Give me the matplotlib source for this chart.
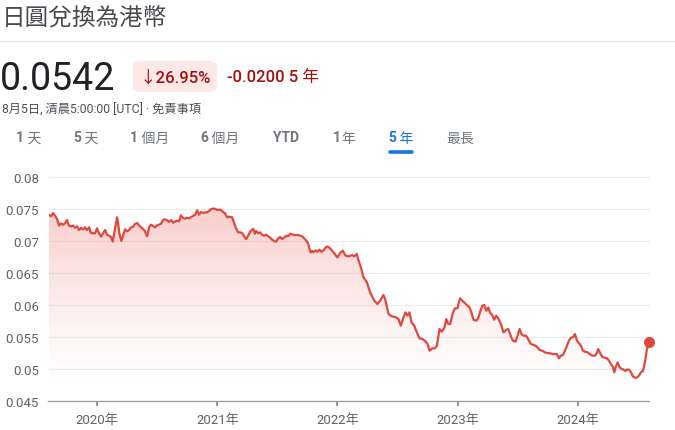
import numpy as np
import matplotlib.pyplot as plt
from matplotlib.patches import FancyBboxPatch
from matplotlib.lines import Line2D

plt.rcParams['font.family'] = ['Roboto', 'Noto Sans CJK TC', 'DejaVu Sans']

# JPY -> HKD, last 5 years (decimal year, rate)
years = [
    2019.597, 2019.614, 2019.631, 2019.647, 2019.664, 2019.681, 2019.697, 2019.714, 2019.731, 2019.747,
    2019.764, 2019.781, 2019.797, 2019.814, 2019.831, 2019.847, 2019.864, 2019.881, 2019.897, 2019.914,
    2019.931, 2019.947, 2019.964, 2019.981, 2019.997, 2020.014, 2020.031, 2020.047, 2020.064, 2020.081,
    2020.097, 2020.114, 2020.128, 2020.139, 2020.156, 2020.164, 2020.172, 2020.183, 2020.200, 2020.214,
    2020.231, 2020.247, 2020.264, 2020.281, 2020.297, 2020.314, 2020.331, 2020.347, 2020.364, 2020.381,
    2020.397, 2020.414, 2020.431, 2020.447, 2020.464, 2020.481, 2020.497, 2020.514, 2020.531, 2020.547,
    2020.564, 2020.581, 2020.597, 2020.614, 2020.631, 2020.647, 2020.664, 2020.681, 2020.697, 2020.714,
    2020.731, 2020.747, 2020.764, 2020.781, 2020.797, 2020.814, 2020.831, 2020.847, 2020.864, 2020.881,
    2020.897, 2020.914, 2020.931, 2020.947, 2020.964, 2020.981, 2020.997, 2021.014, 2021.031, 2021.047,
    2021.064, 2021.081, 2021.097,
    2021.123, 2021.139, 2021.156, 2021.173, 2021.189, 2021.206, 2021.223, 2021.239, 2021.256,
    2021.273, 2021.289, 2021.300, 2021.312, 2021.323, 2021.339, 2021.356, 2021.373, 2021.389, 2021.406,
    2021.423, 2021.439, 2021.456, 2021.473, 2021.489, 2021.506, 2021.523, 2021.539, 2021.556, 2021.573,
    2021.589, 2021.606, 2021.623, 2021.639, 2021.656, 2021.673, 2021.689, 2021.706, 2021.723, 2021.739,
    2021.756, 2021.767, 2021.778, 2021.789, 2021.800, 2021.817, 2021.834, 2021.850, 2021.867, 2021.884,
    2021.900, 2021.917,
    2021.939, 2021.967, 2022.000, 2022.022, 2022.045, 2022.067, 2022.094, 2022.122, 2022.139, 2022.161,
    2022.172, 2022.195, 2022.217, 2022.245, 2022.272, 2022.306, 2022.333, 2022.356, 2022.383, 2022.397,
    2022.425, 2022.453, 2022.489, 2022.508, 2022.528, 2022.550, 2022.567, 2022.583, 2022.600, 2022.617,
    2022.639, 2022.661, 2022.683, 2022.706, 2022.728, 2022.750, 2022.767, 2022.789, 2022.811, 2022.828,
    2022.850, 2022.867, 2022.889, 2022.906, 2022.922, 2022.939, 2022.961, 2022.978, 2023.000, 2023.011,
    2023.022, 2023.039, 2023.061, 2023.083, 2023.100, 2023.117, 2023.133, 2023.156, 2023.172, 2023.189,
    2023.206, 2023.222, 2023.239, 2023.256, 2023.272, 2023.289, 2023.306, 2023.322, 2023.339, 2023.361,
    2023.383, 2023.406, 2023.422, 2023.445, 2023.461, 2023.483, 2023.500, 2023.517, 2023.533, 2023.550,
    2023.572, 2023.595, 2023.611, 2023.633, 2023.650, 2023.667, 2023.683, 2023.706, 2023.728, 2023.750,
    2023.772, 2023.795, 2023.811, 2023.828, 2023.845, 2023.861, 2023.878, 2023.895, 2023.911, 2023.928,
    2023.945, 2023.961, 2023.978, 2023.995, 2024.011, 2024.028, 2024.045, 2024.061, 2024.084, 2024.100,
    2024.122, 2024.145, 2024.161, 2024.172, 2024.189, 2024.206, 2024.228, 2024.245, 2024.261, 2024.278,
    2024.295, 2024.306, 2024.317, 2024.334, 2024.350, 2024.367, 2024.384, 2024.400, 2024.411, 2024.428,
    2024.445, 2024.461, 2024.478, 2024.495, 2024.511, 2024.528, 2024.545, 2024.561, 2024.578, 2024.595,
]
rates = [
    0.07411, 0.07385, 0.07437, 0.07396, 0.07344, 0.07240, 0.07276, 0.07255, 0.07276, 0.07328,
    0.07240, 0.07229, 0.07240, 0.07208, 0.07229, 0.07172, 0.07203, 0.07182, 0.07214, 0.07172,
    0.07214, 0.07125, 0.07120, 0.07120, 0.07198, 0.07120, 0.07068, 0.07120, 0.07172, 0.07094,
    0.07083, 0.07063, 0.06990, 0.07109, 0.07302, 0.07370, 0.07292, 0.07120, 0.07000, 0.07083,
    0.07182, 0.07151, 0.07172, 0.07214, 0.07224, 0.07266, 0.07281, 0.07245, 0.07214, 0.07188,
    0.07151, 0.07073, 0.07214, 0.07255, 0.07234, 0.07214, 0.07245, 0.07255, 0.07271, 0.07328,
    0.07339, 0.07323, 0.07297, 0.07328, 0.07286, 0.07302, 0.07318, 0.07307, 0.07401, 0.07359,
    0.07349, 0.07365, 0.07354, 0.07375, 0.07391, 0.07411, 0.07479, 0.07411, 0.07453, 0.07437,
    0.07448, 0.07448, 0.07469, 0.07500, 0.07505, 0.07505, 0.07484, 0.07490, 0.07484, 0.07453,
    0.07432, 0.07370, 0.07380,
    0.07370, 0.07281, 0.07198, 0.07135, 0.07135, 0.07125, 0.07073, 0.07031, 0.07083,
    0.07146, 0.07177, 0.07187, 0.07114, 0.07156, 0.07120, 0.07135, 0.07094, 0.07083, 0.07099,
    0.07073, 0.07052, 0.07021, 0.07000, 0.06990, 0.07041, 0.07062, 0.07031, 0.07052, 0.07083,
    0.07073, 0.07114, 0.07104, 0.07094, 0.07094, 0.07094, 0.07083, 0.07073, 0.07041, 0.07010,
    0.06958, 0.06875, 0.06823, 0.06844, 0.06823, 0.06854, 0.06833, 0.06864, 0.06833, 0.06854,
    0.06896, 0.06917,
    0.06885, 0.06823, 0.06745, 0.06812, 0.06849, 0.06771, 0.06760, 0.06781, 0.06760, 0.06797,
    0.06719, 0.06588, 0.06432, 0.06354, 0.06198, 0.06068, 0.06016, 0.06068, 0.06156, 0.06094,
    0.05859, 0.05823, 0.05807, 0.05781, 0.05677, 0.05807, 0.05885, 0.05833, 0.05885, 0.05729,
    0.05677, 0.05573, 0.05479, 0.05469, 0.05443, 0.05391, 0.05286, 0.05323, 0.05323, 0.05364,
    0.05625, 0.05583, 0.05635, 0.05781, 0.05703, 0.05703, 0.05875, 0.05948, 0.05948, 0.06042,
    0.06104, 0.06068, 0.06031, 0.05989, 0.05963, 0.05875, 0.05770, 0.05755, 0.05792, 0.05896,
    0.05989, 0.06000, 0.05911, 0.05963, 0.05875, 0.05844, 0.05770, 0.05833, 0.05792, 0.05703,
    0.05573, 0.05614, 0.05625, 0.05510, 0.05443, 0.05427, 0.05520, 0.05625, 0.05547, 0.05520,
    0.05520, 0.05443, 0.05391, 0.05375, 0.05364, 0.05338, 0.05297, 0.05286, 0.05260, 0.05250,
    0.05245, 0.05234, 0.05234, 0.05234, 0.05167, 0.05208, 0.05219, 0.05286, 0.05364, 0.05443,
    0.05489, 0.05495, 0.05547, 0.05443, 0.05406, 0.05364, 0.05286, 0.05270, 0.05260, 0.05234,
    0.05208, 0.05208, 0.05250, 0.05312, 0.05245, 0.05187, 0.05177, 0.05167, 0.05130, 0.05078,
    0.05026, 0.04948, 0.05026, 0.05104, 0.05026, 0.05000, 0.04990, 0.04969, 0.04990, 0.04990,
    0.04948, 0.04885, 0.04865, 0.04865, 0.04896, 0.04948, 0.04969, 0.05104, 0.05312, 0.05420,
]

y_ticks = [0.045, 0.05, 0.055, 0.06, 0.065, 0.07, 0.075, 0.08]
y_labels = ['0.045', '0.05', '0.055', '0.06', '0.065', '0.07', '0.075', '0.08']
x_ticks = [2020, 2021, 2022, 2023, 2024]
x_labels = ['2020年', '2021年', '2022年', '2023年', '2024年']
# period tabs: bold numeric part + light CJK part
tab_nums = ['1', '5', '1', '6', 'YTD', '1', '5', '']
tab_words = [' 天', ' 天', ' 個月', ' 個月', '', '年', ' 年', '最長']
tab_x = [16, 73, 130, 200, 273, 333, 388, 446]
active_tab = 6

RED = '#e0483e'
W, H = 675, 431

fig = plt.figure(figsize=(6.75, 4.31), dpi=100)
fig.patch.set_facecolor('white')

def fx(px):
    return px / W

def fy(py):
    return 1 - py / H

# --- header ---
fig.text(fx(2), fy(18.5), '日圓兌換為港幣', fontsize=17, color='#474a4f', va='center', ha='left')
fig.add_artist(Line2D([0, 1], [fy(41.5), fy(41.5)], color='#e3e3e3', lw=0.8))
fig.text(fx(0), fy(79), '0.0542', fontsize=27, color='#202124', va='center', ha='left')
badge = FancyBboxPatch((fx(133), fy(93)), fx(84), 31 / H,
                       boxstyle='round,pad=0,rounding_size=0.012',
                       transform=fig.transFigure, facecolor='#fce8e6', edgecolor='none')
fig.add_artist(badge)
fig.text(fx(175), fy(77.5), '↓26.95%', fontsize=12, color='#a50e0e', va='center', ha='center',
         fontweight='medium')
fig.text(fx(227), fy(77.5), '-0.0200 5 年', fontsize=12, color='#a50e0e', va='center', ha='left',
         fontweight='medium')
fig.text(fx(2), fy(110), '8月5日, 清晨5:00:00 [UTC] · 免責事項', fontsize=8.8, color='#4d5156',
         va='center', ha='left')

renderer = fig.canvas.get_renderer()
for i, (num, word, x) in enumerate(zip(tab_nums, tab_words, tab_x)):
    col = '#1a73e8' if i == active_tab else '#70757a'
    pos = fx(x)
    if num:
        t = fig.text(pos, fy(138.5), num, fontsize=10, color=col, va='center', ha='left',
                     fontweight='bold')
        pos = fx(t.get_window_extent(renderer).x1)
    if word:
        fig.text(pos, fy(138.5), word, fontsize=10, color=col, va='center', ha='left')
fig.add_artist(Line2D([fx(390), fx(412)], [fy(153), fy(153)], color='#1a73e8', lw=2.6,
                      solid_capstyle='round'))

# --- chart ---
ax = fig.add_axes([fx(48.5), fy(402), fx(600.5), 224 / H])
ax.set_xlim(2019.593, 2024.595)
ax.set_ylim(0.045, 0.08)

# gradient fill under the line
poly = ax.fill_between(years, rates, 0.045, color='none', lw=0)
grad = np.zeros((256, 2, 4))
grad[..., 0] = 0.91
grad[..., 1] = 0.30
grad[..., 2] = 0.26
grad[..., 3] = np.linspace(0.0, 0.38, 256)[:, None] ** 1.3
img = ax.imshow(grad, extent=[2019.593, 2024.595, 0.047, 0.0755], origin='lower',
                aspect='auto', zorder=1, interpolation='bicubic')
img.set_clip_path(poly.get_paths()[0], transform=ax.transData)
ax.set_xlim(2019.593, 2024.595)
ax.set_ylim(0.045, 0.08)

ax.plot(years, rates, color=RED, lw=1.6, zorder=3, solid_joinstyle='round')
ax.plot(years[-1], rates[-1], 'o', color=RED, ms=7, zorder=4, clip_on=False)

for v in y_ticks[1:]:
    ax.axhline(v, color='#ececec', lw=0.8, zorder=0, clip_on=False)

for s in ['top', 'right', 'left']:
    ax.spines[s].set_visible(False)
ax.spines['bottom'].set_color('#9aa0a6')
ax.spines['bottom'].set_linewidth(1.0)

ax.set_yticks(y_ticks)
ax.set_yticklabels(y_labels)
ax.set_xticks(x_ticks)
ax.set_xticklabels(x_labels)
ax.tick_params(axis='y', length=0, pad=7, labelsize=9.5, labelcolor='#5f6368')
ax.tick_params(axis='x', length=3.5, width=1.2, color='#80868b', pad=5, labelsize=9.5,
               labelcolor='#5f6368')

fig.savefig('out.png', dpi=100, facecolor='white')
